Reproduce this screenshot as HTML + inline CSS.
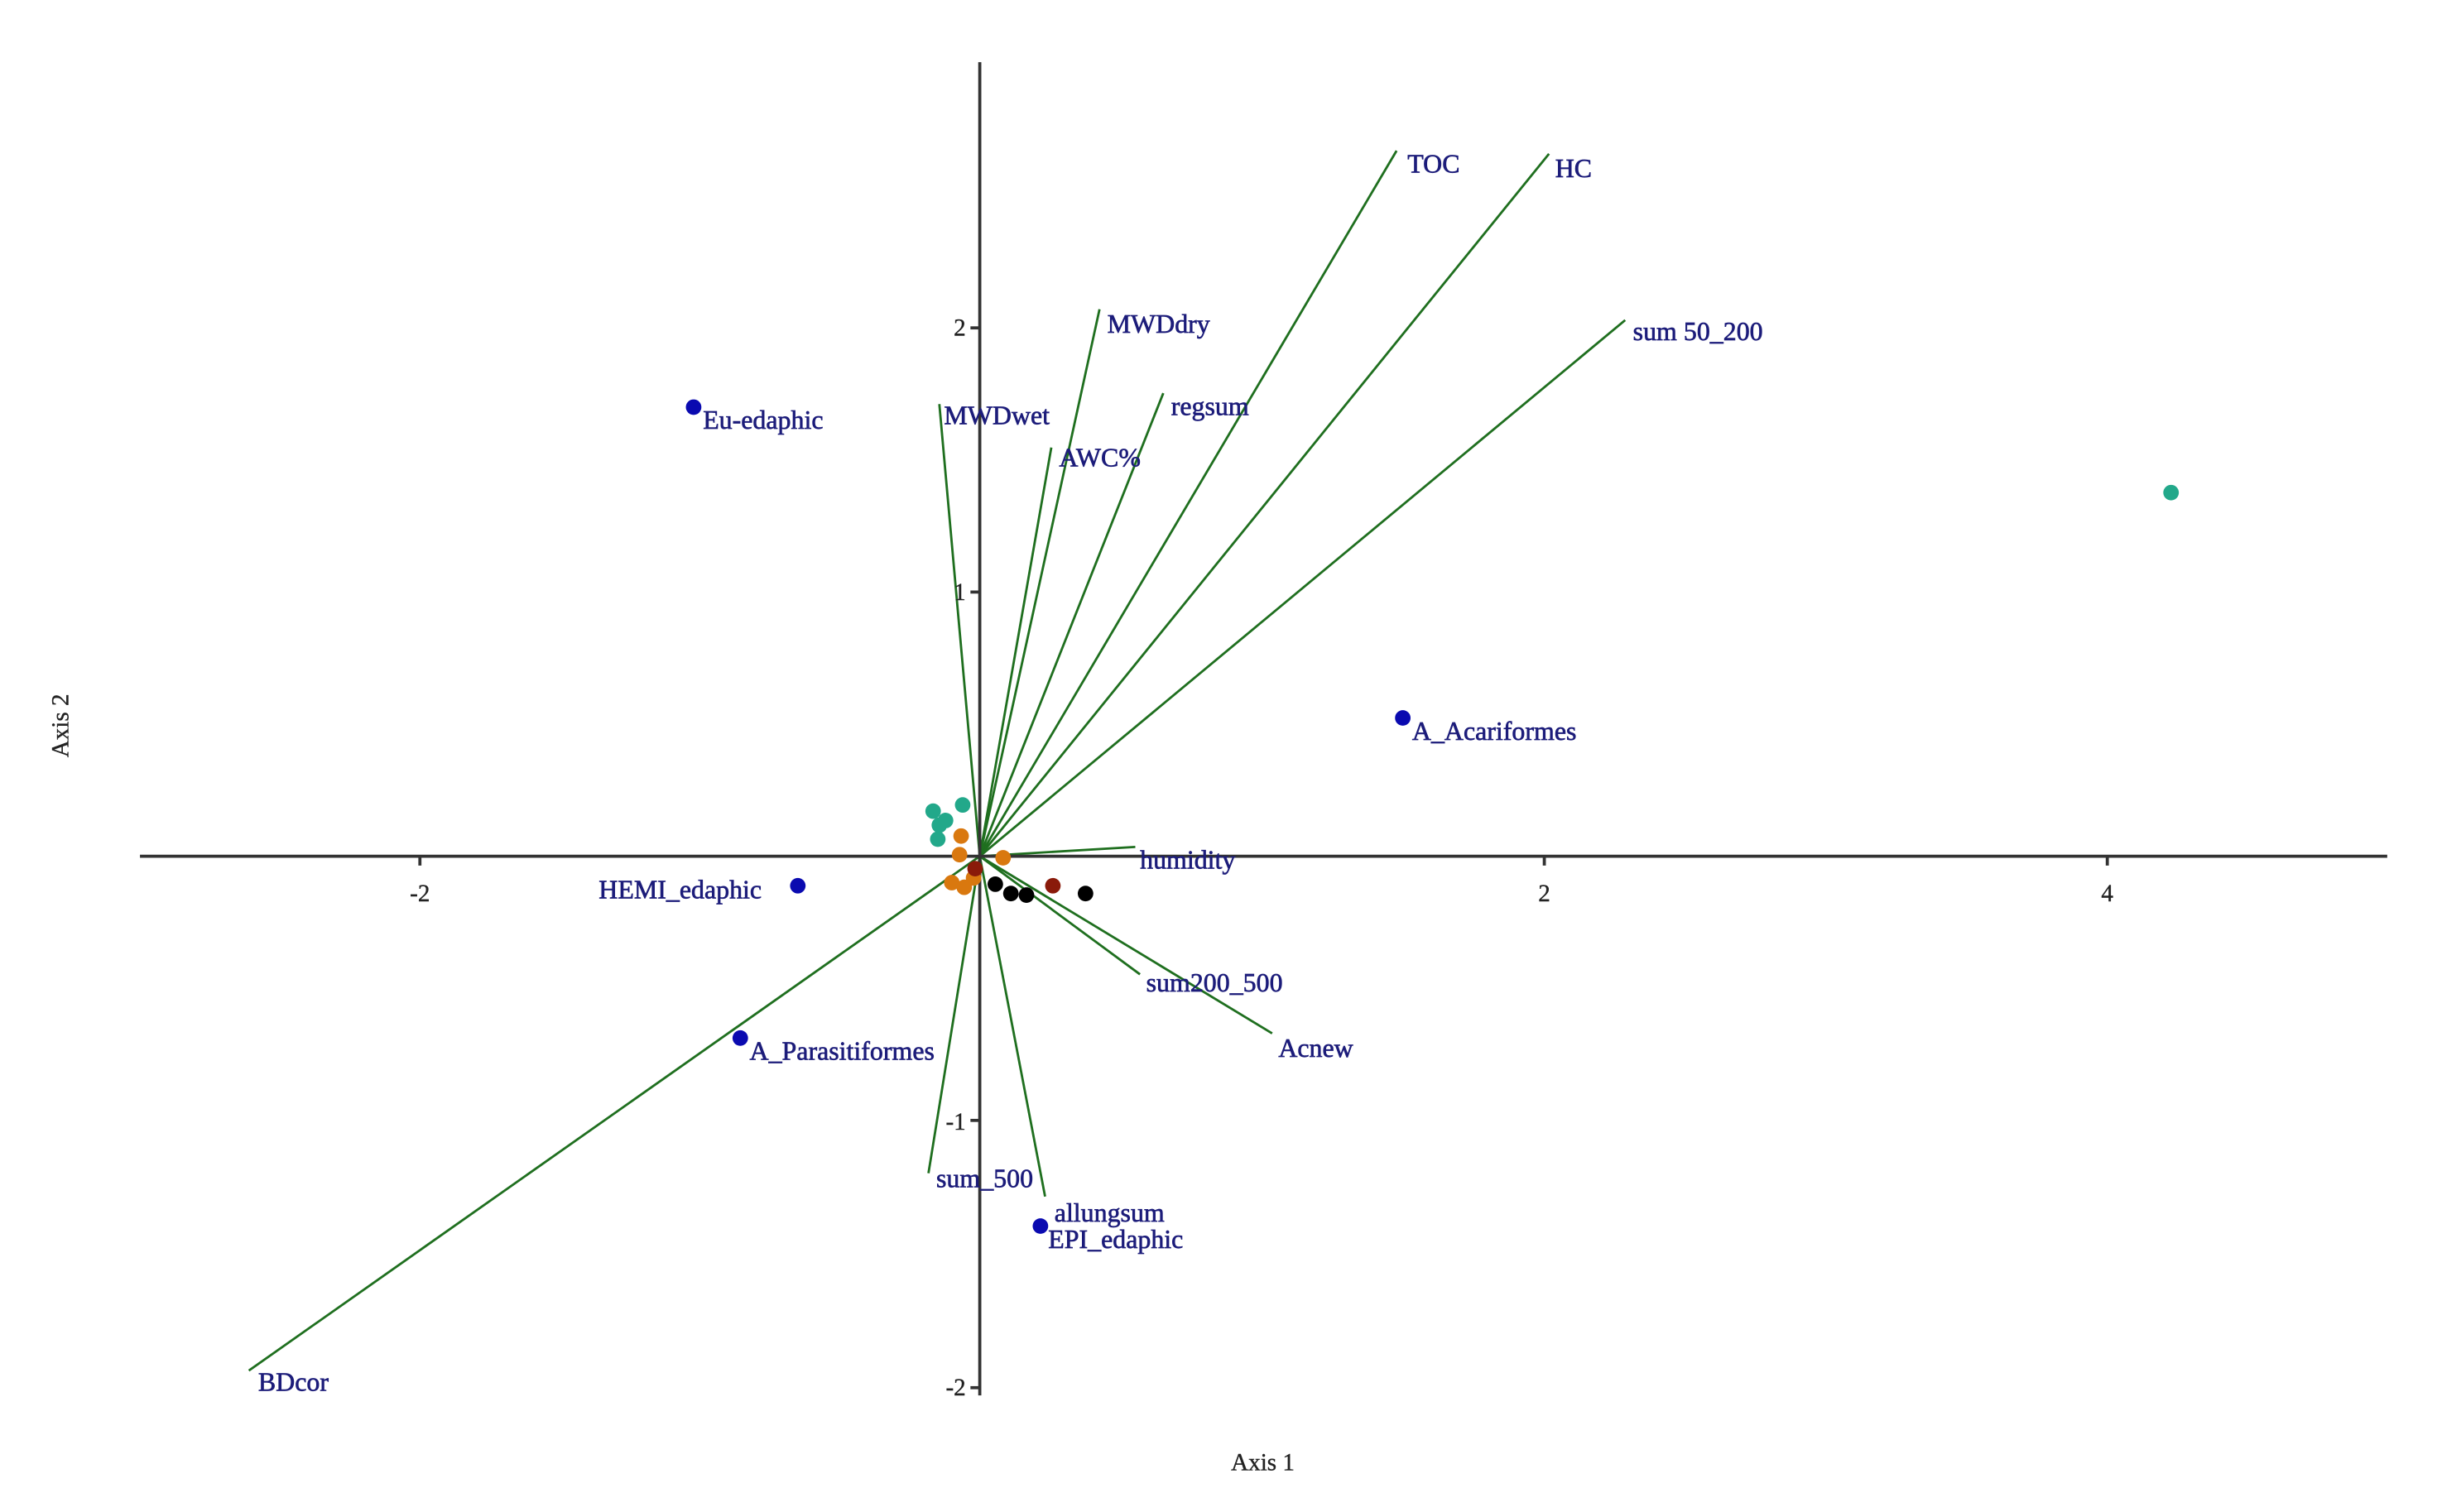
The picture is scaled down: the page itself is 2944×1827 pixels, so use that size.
<!DOCTYPE html>
<html><head><meta charset="utf-8"><style>
html,body{margin:0;padding:0;background:#fff;}
svg{display:block;}
text{font-family:"Liberation Serif",serif;}
.l{font-size:17px;fill:#1c1c7a;stroke:#1c1c7a;stroke-width:0.35;}
.t{font-size:15.5px;fill:#222;stroke:#222;stroke-width:0.2;}
</style></head><body>
<svg width="2944" height="1827" viewBox="0 0 1567 973" preserveAspectRatio="none" xmlns="http://www.w3.org/2000/svg">
<rect width="1567" height="973" fill="#fff"/>
<g stroke="#1f6f1f" stroke-width="1.5" fill="none">
<line x1="630" y1="551" x2="898" y2="97"/>
<line x1="630" y1="551" x2="996" y2="99"/>
<line x1="630" y1="551" x2="1045" y2="206"/>
<line x1="630" y1="551" x2="707" y2="199"/>
<line x1="630" y1="551" x2="748" y2="253"/>
<line x1="630" y1="551" x2="604" y2="260"/>
<line x1="630" y1="551" x2="676" y2="288"/>
<line x1="630" y1="551" x2="730" y2="545"/>
<line x1="630" y1="551" x2="733" y2="627"/>
<line x1="630" y1="551" x2="818" y2="665"/>
<line x1="630" y1="551" x2="160" y2="882"/>
<line x1="630" y1="551" x2="597" y2="755"/>
<line x1="630" y1="551" x2="672" y2="770"/>
</g>
<g stroke="#333" stroke-width="2" fill="none">
<line x1="90" y1="551" x2="1535" y2="551"/>
<line x1="630" y1="40" x2="630" y2="898"/>
<line x1="270" y1="551" x2="270" y2="557"/>
<line x1="993" y1="551" x2="993" y2="557"/>
<line x1="1355" y1="551" x2="1355" y2="557"/>
<line x1="624" y1="211" x2="630" y2="211"/>
<line x1="624" y1="381" x2="630" y2="381"/>
<line x1="624" y1="721" x2="630" y2="721"/>
<line x1="624" y1="893" x2="630" y2="893"/>
</g>
<g class="t">
<text x="270" y="580" text-anchor="middle">-2</text>
<text x="993" y="580" text-anchor="middle">2</text>
<text x="1355" y="580" text-anchor="middle">4</text>
<text x="621" y="216" text-anchor="end">2</text>
<text x="621" y="386" text-anchor="end">1</text>
<text x="621" y="727" text-anchor="end">-1</text>
<text x="621" y="898" text-anchor="end">-2</text>
<text x="812" y="946" text-anchor="middle">Axis 1</text>
<text x="0" y="0" text-anchor="middle" transform="translate(44,467) rotate(-90)">Axis 2</text>
</g>
<g class="l">
<text x="905" y="111">TOC</text>
<text x="1000" y="114">HC</text>
<text x="1050" y="219">sum 50_200</text>
<text x="712" y="214">MWDdry</text>
<text x="753" y="267">regsum</text>
<text x="607" y="273">MWDwet</text>
<text x="681" y="300">AWC%</text>
<text x="452" y="276">Eu-edaphic</text>
<text x="908" y="476">A_Acariformes</text>
<text x="733" y="559">humidity</text>
<text x="385" y="578">HEMI_edaphic</text>
<text x="737" y="638">sum200_500</text>
<text x="822" y="680">Acnew</text>
<text x="482" y="682">A_Parasitiformes</text>
<text x="602" y="764">sum_500</text>
<text x="678" y="786">allungsum</text>
<text x="674" y="803">EPI_edaphic</text>
<text x="166" y="895">BDcor</text>
</g>
<g fill="#0a0ab0">
<circle cx="446" cy="262" r="5"/>
<circle cx="513" cy="570" r="5"/>
<circle cx="902" cy="462" r="5"/>
<circle cx="476" cy="668" r="5"/>
<circle cx="669" cy="789" r="5"/>
</g>
<g fill="#22a88a">
<circle cx="1396" cy="317" r="5"/>
<circle cx="600" cy="522" r="5"/>
<circle cx="604" cy="531" r="5"/>
<circle cx="608" cy="528" r="5"/>
<circle cx="619" cy="518" r="5"/>
<circle cx="603" cy="540" r="5"/>
</g>
<g fill="#d9780f">
<circle cx="618" cy="538" r="5"/>
<circle cx="617" cy="550" r="5"/>
<circle cx="645" cy="552" r="5"/>
<circle cx="612" cy="568" r="5"/>
<circle cx="620" cy="571" r="5"/>
<circle cx="626" cy="565" r="5"/>
</g>
<g fill="#8a1a0a">
<circle cx="627" cy="559" r="5"/>
<circle cx="677" cy="570" r="5"/>
</g>
<g fill="#000">
<circle cx="640" cy="569" r="5"/>
<circle cx="650" cy="575" r="5"/>
<circle cx="660" cy="576" r="5"/>
<circle cx="698" cy="575" r="5"/>
</g>
</svg>
</body></html>
